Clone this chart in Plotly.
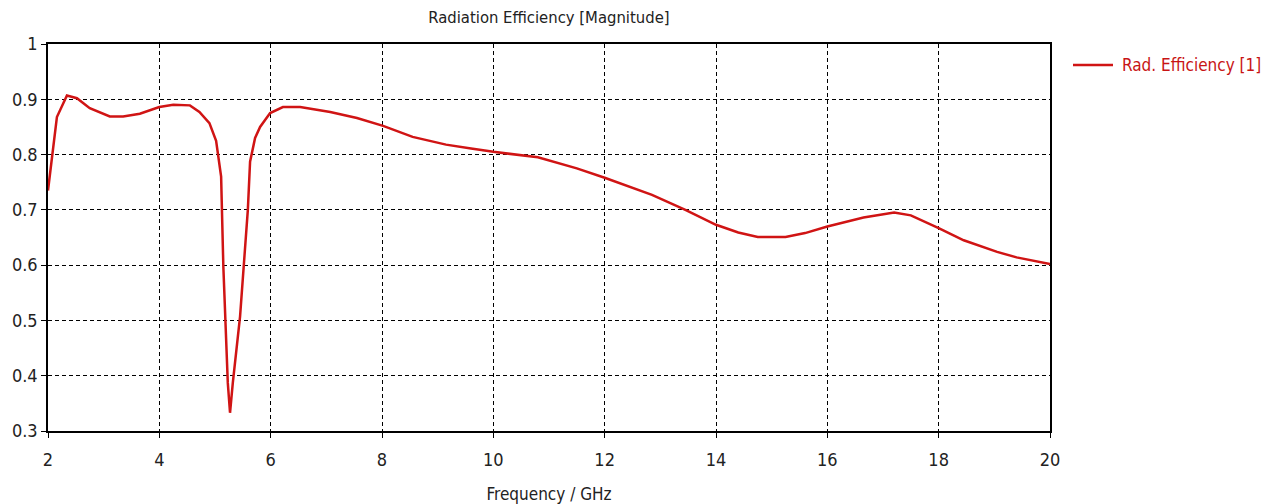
import plotly.graph_objects as go

# Radiation efficiency versus frequency
freq_ghz = [2.0, 2.08, 2.16, 2.34, 2.52, 2.75, 3.11, 3.35, 3.65, 4.0, 4.25, 4.55, 4.72,
            4.9, 5.02, 5.11, 5.15, 5.23, 5.27, 5.32, 5.45, 5.59, 5.63, 5.72, 5.81, 5.99,
            6.22, 6.53, 7.07, 7.55, 8.02, 8.55, 9.15, 9.6, 10.0, 10.8, 11.5, 12.0, 12.85,
            13.45, 14.0, 14.4, 14.75, 15.25, 15.6, 16.0, 16.65, 17.2, 17.5, 18.0, 18.45,
            19.05, 19.4, 20.0]
rad_eff = [0.735, 0.80, 0.868, 0.907, 0.902, 0.884, 0.869, 0.869, 0.874, 0.886, 0.890,
           0.889, 0.877, 0.857, 0.825, 0.760, 0.597, 0.387, 0.333, 0.387, 0.507, 0.700,
           0.787, 0.830, 0.850, 0.875, 0.886, 0.886, 0.877, 0.866, 0.852, 0.832, 0.818,
           0.811, 0.805, 0.795, 0.775, 0.758, 0.727, 0.700, 0.673, 0.659, 0.651, 0.651,
           0.658, 0.670, 0.686, 0.695, 0.690, 0.667, 0.645, 0.624, 0.614, 0.602]

x_ticks = [2, 4, 6, 8, 10, 12, 14, 16, 18, 20]
y_ticks = [0.3, 0.4, 0.5, 0.6, 0.7, 0.8, 0.9, 1]

SERIES_NAME = "Rad. Efficiency [1]"
LINE_RED = "#d01414"
FONT = "DejaVu Sans Condensed"

fig = go.Figure()
fig.add_trace(go.Scatter(
    x=freq_ghz, y=rad_eff, mode="lines", name=SERIES_NAME,
    line=dict(color=LINE_RED, width=2.5), showlegend=False,
))

axis_common = dict(
    showline=True, linecolor="black", linewidth=1.5, mirror=True,
    showgrid=True, gridcolor="black", gridwidth=1, griddash="4px,3px",
    ticks="outside", ticklen=5, tickcolor="black", tickwidth=1,
    zeroline=False, automargin=False,
    tickfont=dict(family=FONT, size=18, color="#222"),
)

fig.update_xaxes(range=[2, 20], tickvals=x_ticks, ticklabelstandoff=7,
                 title=dict(text="Frequency / GHz", font=dict(family=FONT, size=17, color="#222"),
                            standoff=20),
                 **axis_common)
fig.update_yaxes(range=[0.3, 1], tickvals=y_ticks,
                 ticktext=[f"{v:g}" for v in y_ticks], **axis_common)

# Legend key to the right of the plot: a short line sample and the series name
key_y = 0.9457
fig.add_shape(type="line", xref="paper", yref="paper",
              x0=(1073 - 48) / 1002, x1=(1113 - 48) / 1002, y0=key_y, y1=key_y,
              line=dict(color=LINE_RED, width=2.5))
fig.add_annotation(text=SERIES_NAME, xref="paper", yref="paper",
                   x=(1120 - 48) / 1002, y=key_y, xanchor="left", yanchor="middle",
                   showarrow=False, font=dict(family=FONT, size=17, color="#c81414"))

fig.update_layout(
    width=1273, height=504,
    margin=dict(l=48, r=223, t=44, b=73),
    paper_bgcolor="white", plot_bgcolor="white",
    title=dict(text="Radiation Efficiency [Magnitude]", x=0.4312, xanchor="center",
               y=0.966, yanchor="middle",
               font=dict(family=FONT, size=16.5, color="#222")),
    showlegend=False,
)

fig.write_html("out.html")
